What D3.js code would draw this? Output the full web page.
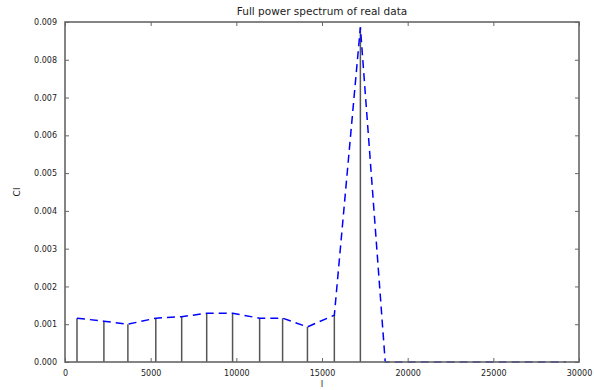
<!DOCTYPE html>
<html>
<head>
<meta charset="utf-8">
<script src="https://cdn.jsdelivr.net/npm/d3@7"></script>
<style>
  body { margin: 0; background: #fff; }
  svg { display: block; }
  text { font-family: "DejaVu Sans", sans-serif; fill: #222; }
</style>
</head>
<body>
<div id="chart"></div>
<script>
// multipole bins and binned power
const ells = [700, 2270, 3670, 5300, 6810, 8270, 9780, 11360, 12700, 14150, 15720, 17240,
  18690, 20200, 21700, 23200, 24700, 26200, 27700, 29240];
const power = [0.00116, 0.00108, 0.00100, 0.00116, 0.00120, 0.00129, 0.00129, 0.00116, 0.00116, 0.00093, 0.00124, 0.00886,
  0, 0, 0, 0, 0, 0, 0, 0];
const xTicks = [0, 5000, 10000, 15000, 20000, 25000, 30000];
const yTicks = [0, 0.001, 0.002, 0.003, 0.004, 0.005, 0.006, 0.007, 0.008, 0.009];

const W = 594, H = 390;
const margin = {left: 65, right: 15, top: 22, bottom: 28};
const width = W - margin.left - margin.right;
const height = H - margin.top - margin.bottom;

const svg = d3.select("#chart").append("svg")
  .attr("width", W)
  .attr("height", H);

const g = svg.append("g")
  .attr("transform", "translate(" + margin.left + "," + margin.top + ")");

const x = d3.scaleLinear().domain([0, 30000]).range([0, width]);
const y = d3.scaleLinear().domain([0, 0.009]).range([height, 0]);

const data = ells.map((l, i) => ({l: l, c: power[i]}));

// stems
g.selectAll(".stem")
  .data(data.filter(d => d.c > 0))
  .enter()
  .append("line")
  .attr("class", "stem")
  .attr("x1", d => x(d.l))
  .attr("x2", d => x(d.l))
  .attr("y1", y(0))
  .attr("y2", d => y(d.c))
  .attr("stroke", "#555")
  .attr("stroke-width", 1.5);

// dashed blue line
const line = d3.line().x(d => x(d.l)).y(d => y(d.c));
g.append("path")
  .datum(data)
  .attr("d", line)
  .attr("fill", "none")
  .attr("stroke", "#0000ff")
  .attr("stroke-width", 1.5)
  .attr("stroke-dasharray", "8,5");

// axes, ticks pointing inwards like matplotlib
const fmtY = d3.format(".3f");
g.append("g")
  .attr("transform", "translate(0," + height + ")")
  .call(d3.axisBottom(x).tickValues(xTicks).tickSizeInner(-4).tickSizeOuter(0).tickPadding(8).tickFormat(d3.format("d")));
g.append("g")
  .call(d3.axisTop(x).tickValues(xTicks).tickSizeInner(-4).tickSizeOuter(0).tickFormat(""));
g.append("g")
  .call(d3.axisLeft(y).tickValues(yTicks).tickSizeInner(-4).tickSizeOuter(0).tickPadding(8).tickFormat(fmtY));
g.append("g")
  .attr("transform", "translate(" + width + ",0)")
  .call(d3.axisRight(y).tickValues(yTicks).tickSizeInner(-4).tickSizeOuter(0).tickFormat(""));

g.selectAll(".domain").remove();
g.selectAll(".tick line").attr("stroke", "#666");
g.selectAll(".tick text").attr("font-size", 8).attr("fill", "#333");

// frame
g.append("rect")
  .attr("width", width)
  .attr("height", height)
  .attr("fill", "none")
  .attr("stroke", "#666")
  .attr("stroke-width", 1.6);

// labels
svg.append("text")
  .attr("x", margin.left + width / 2)
  .attr("y", 15)
  .attr("text-anchor", "middle")
  .attr("font-size", 10.5)
  .text("Full power spectrum of real data");

svg.append("text")
  .attr("x", margin.left + width / 2)
  .attr("y", 387)
  .attr("text-anchor", "middle")
  .attr("font-size", 9)
  .text("l");

svg.append("text")
  .attr("transform", "translate(20," + (margin.top + height / 2) + ") rotate(-90)")
  .attr("text-anchor", "middle")
  .attr("font-size", 9)
  .text("Cl");
</script>
</body>
</html>
